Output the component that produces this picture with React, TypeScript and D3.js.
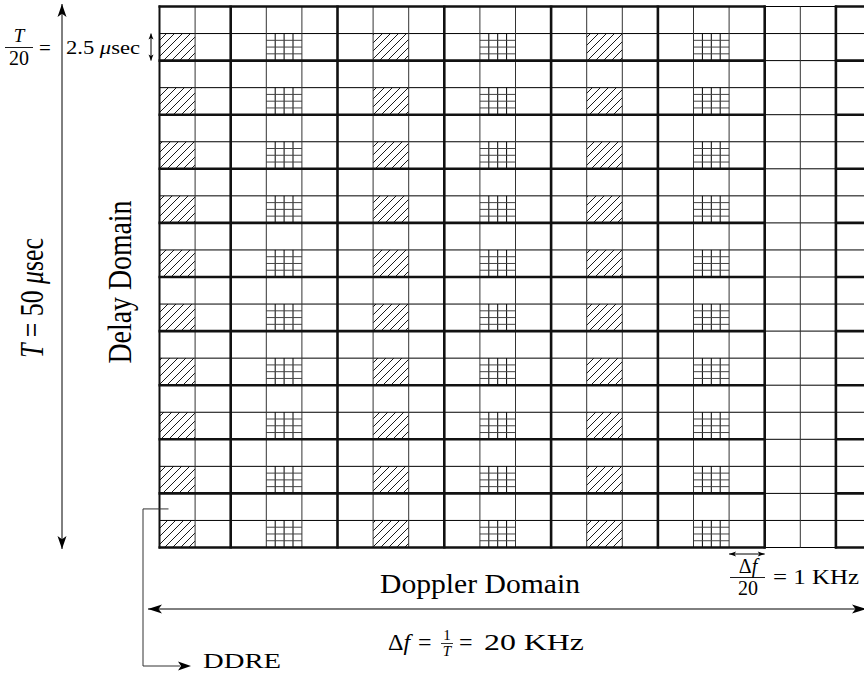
import React from "react";
import * as d3 from "d3";

const nCols = 20;
const nRows = 20;
const thickCols = [0, 2, 5, 8, 11, 14, 17, 19];
const thickSpans = [[0, 17], [19, 20]];
const hatchCols = [0, 6, 12];
const gridCols = [3, 9, 15];
const patternRows = [1, 3, 5, 7, 9, 11, 13, 15, 17, 19];
const subDiv = [1, 2, 3];

const W = 864;
const H = 683;
const serif = "'Liberation Serif', 'DejaVu Serif', serif";

function Arrow({ x1, y1, x2, y2, head = 10, hw = 4, both = true }: any) {
  const a = Math.atan2(y2 - y1, x2 - x1);
  const tri = (x: number, y: number, ang: number) => {
    const bx = x - head * Math.cos(ang);
    const by = y - head * Math.sin(ang);
    const px = -Math.sin(ang) * hw;
    const py = Math.cos(ang) * hw;
    return `M${x},${y}L${bx + px},${by + py}L${bx + head * 0.25 * Math.cos(ang)},${by + head * 0.25 * Math.sin(ang)}L${bx - px},${by - py}Z`;
  };
  return (
    <g>
      <line x1={x1} y1={y1} x2={x2} y2={y2} stroke="#000" strokeWidth={1} />
      <path d={tri(x2, y2, a)} fill="#000" />
      {both && <path d={tri(x1, y1, a + Math.PI)} fill="#000" />}
    </g>
  );
}

export default function App() {
  const x = d3.scaleLinear().domain([0, nCols]).range([159.5, 871.5]);
  const y = d3.scaleLinear().domain([0, nRows]).range([6.5, 547.5]);
  const cw = x(1) - x(0);
  const rh = y(1) - y(0);
  const rowIdx = d3.range(nRows + 1);
  const colIdx = d3.range(nCols + 1);

  return (
    <svg width={W} height={H} style={{ position: "absolute", left: 0, top: 0, background: "#fff" }}>
      <defs>
        <pattern id="hatch" patternUnits="userSpaceOnUse" width={8} height={8}>
          <path d="M0,8L8,0M-1,1L1,-1M7,9L9,7" stroke="#000" strokeWidth={0.9} />
        </pattern>
      </defs>
      <rect x={0} y={0} width={W} height={H} fill="#fff" />

      {/* patterned cells */}
      {hatchCols.map((c) =>
        patternRows.map((r) => (
          <rect key={`h${c}-${r}`} x={x(c)} y={y(r)} width={cw} height={rh} fill="url(#hatch)" />
        ))
      )}
      {gridCols.map((c) =>
        patternRows.map((r) => (
          <g key={`g${c}-${r}`} stroke="#000" strokeWidth={1}>
            {subDiv.map((s) => (
              <line key={`v${s}`} x1={x(c) + (cw * s) / 4} x2={x(c) + (cw * s) / 4} y1={y(r)} y2={y(r + 1)} />
            ))}
            {subDiv.map((s) => (
              <line key={`hh${s}`} x1={x(c)} x2={x(c + 1)} y1={y(r) + (rh * s) / 4} y2={y(r) + (rh * s) / 4} stroke="#444" />
            ))}
          </g>
        ))
      )}

      {/* thin grid */}
      {rowIdx.map((r) => (
        <line key={`hr${r}`} x1={x(0)} x2={x(nCols)} y1={y(r)} y2={y(r)} stroke="#000" strokeWidth={1} />
      ))}
      {colIdx.map((c) => (
        <line key={`vc${c}`} x1={x(c)} x2={x(c)} y1={y(0)} y2={y(nRows)} stroke="#333" strokeWidth={1} />
      ))}

      {/* thick block lines */}
      {thickSpans.map(([a, b]) =>
        rowIdx
          .filter((r) => r % 2 === 0)
          .map((r) => (
            <line key={`th${a}-${r}`} x1={x(a) - 1} x2={x(b) + 1} y1={y(r)} y2={y(r)} stroke="#111" strokeWidth={2.6} />
          ))
      )}
      {thickCols.map((c) => (
        <line key={`tv${c}`} x1={x(c)} x2={x(c)} y1={y(0) - 1} y2={y(nRows) + 1} stroke="#111" strokeWidth={c === 0 ? 2 : 2.6} />
      ))}

      {/* vertical T arrow */}
      <Arrow x1={62} y1={549} x2={62} y2={4} head={13} hw={4.5} />
      <text transform="translate(43,298) rotate(-90)" fontFamily={serif} fontSize={34} textAnchor="middle" textLength={120} lengthAdjust="spacingAndGlyphs">
        <tspan fontStyle="italic">T</tspan> = 50 <tspan fontStyle="italic">μ</tspan>sec
      </text>
      <text transform="translate(131,282) rotate(-90)" fontFamily={serif} fontSize={34} textAnchor="middle" textLength={163} lengthAdjust="spacingAndGlyphs">
        Delay Domain
      </text>

      {/* T/20 label */}
      <text x={19} y={42} fontFamily={serif} fontSize={19} fontStyle="italic" textAnchor="middle">T</text>
      <line x1={5} x2={33} y1={47.5} y2={47.5} stroke="#000" strokeWidth={0.9} />
      <text x={19} y={65} fontFamily={serif} fontSize={20} textAnchor="middle">20</text>
      <text x={45} y={55} fontFamily={serif} fontSize={21} textAnchor="middle">=</text>
      <text x={66} y={54} fontFamily={serif} fontSize={18} textLength={74} lengthAdjust="spacingAndGlyphs">
        2.5 <tspan fontStyle="italic">μ</tspan>sec
      </text>
      <Arrow x1={151} y1={y(1)} x2={151} y2={y(2)} head={6} hw={2.5} />

      {/* DDRE connector */}
      <path d={`M${x(0) + 9},${y(18) + rh / 2 + 2}H143V666H180`} fill="none" stroke="#333" strokeWidth={1} />
      <path d="M191,666L178,661.5L181,666L178,670.5Z" fill="#000" />
      <text x={203} y={668} fontFamily={serif} fontSize={21} textLength={78} lengthAdjust="spacingAndGlyphs">DDRE</text>

      {/* Doppler arrow */}
      <Arrow x1={148} y1={609} x2={866} y2={609} head={14} hw={4.5} />
      <text x={380} y={593} fontFamily={serif} fontSize={27} textLength={200} lengthAdjust="spacingAndGlyphs">Doppler Domain</text>

      {/* Δf/20 */}
      <Arrow x1={x(16)} y1={554} x2={x(17)} y2={554} head={7} hw={2.5} />
      <text x={748} y={573} fontFamily={serif} fontSize={20} textAnchor="middle">
        Δ<tspan fontStyle="italic">f</tspan>
      </text>
      <line x1={730} x2={765} y1={577.5} y2={577.5} stroke="#000" strokeWidth={0.9} />
      <text x={748} y={595} fontFamily={serif} fontSize={20} textAnchor="middle">20</text>
      <text x={773} y={584} fontFamily={serif} fontSize={20} textLength={86} lengthAdjust="spacingAndGlyphs">= 1 KHz</text>

      {/* Δf = 1/T = 20 KHz */}
      <text x={388} y={650} fontFamily={serif} fontSize={24}>
        Δ<tspan fontStyle="italic">f</tspan>
      </text>
      <text x={418} y={650} fontFamily={serif} fontSize={24}>=</text>
      <text x={447} y={640} fontFamily={serif} fontSize={15} textAnchor="middle">1</text>
      <line x1={441} x2={453} y1={643.5} y2={643.5} stroke="#000" strokeWidth={0.8} />
      <text x={447} y={656} fontFamily={serif} fontSize={15} fontStyle="italic" textAnchor="middle">T</text>
      <text x={459} y={650} fontFamily={serif} fontSize={24}>=</text>
      <text x={484} y={650} fontFamily={serif} fontSize={24} textLength={100} lengthAdjust="spacingAndGlyphs">20 KHz</text>
    </svg>
  );
}
